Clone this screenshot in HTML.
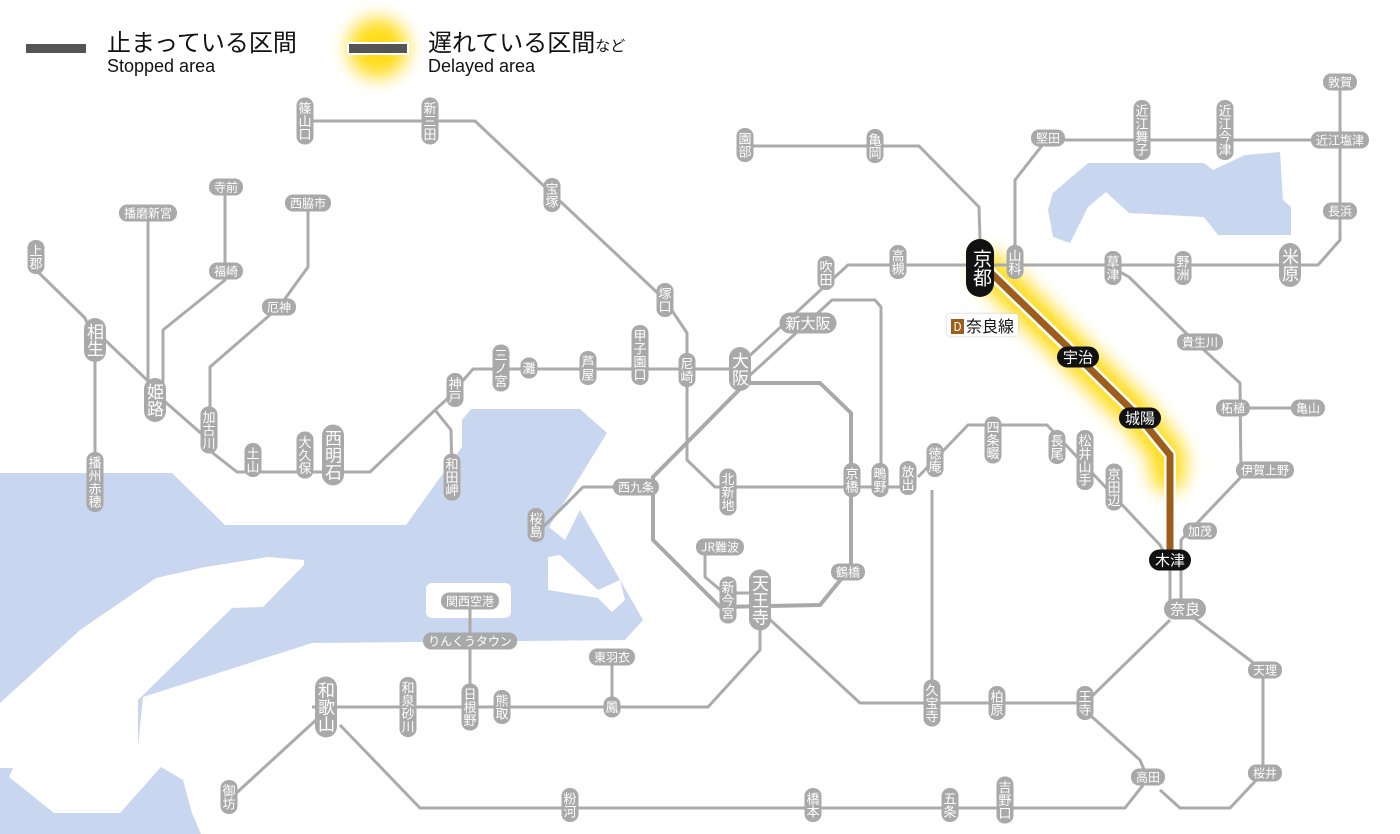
<!DOCTYPE html>
<html><head><meta charset="utf-8">
<style>
html,body{margin:0;padding:0;background:#fff;}
#w{position:relative;width:1400px;height:834px;overflow:hidden;font-family:"Liberation Sans","Noto Sans CJK JP",sans-serif;}
svg{position:absolute;left:0;top:0;}
.l{position:absolute;transform:translate(-50%,-50%);background:#a9a9a9;color:#fff;font-size:12px;white-space:nowrap;border-radius:8px;font-family:"Noto Sans CJK JP",sans-serif;}
.v{writing-mode:vertical-rl;text-orientation:upright;width:17px;line-height:17px;padding:4px 0;font-size:13px;}
.h{height:17px;line-height:17px;padding:0 5px;}
.b{font-size:17px;width:22px;line-height:22px;border-radius:11px;padding:5px 0;}
.hb{font-size:15px;height:21px;line-height:21px;border-radius:11px;padding:0 6px;}
.k{background:#111;}
</style></head><body><div id="w">
<svg width="1400" height="834">
<defs><filter id="g" x="-50%" y="-50%" width="200%" height="200%"><feGaussianBlur stdDeviation="9"/></filter></defs>
<g fill="#c9d6f0">
<polygon points="0,473 172,473 225,525 406,525 462,447 462,420 471,409 580,409 607,433 549,527 565,540 580,510 643,620 625,640 312,643 143,697 138,747 161,767 183,780 192,813 201,834 0,834"/>
<polygon points="1048,210 1053,193 1088,163 1204,163 1213,170 1245,155 1280,152 1283,200 1291,207 1291,235 1218,235 1204,217 1129,213 1106,192 1088,207 1070,243 1053,237"/>
</g>
<g fill="#fff">
<polygon points="304,560 268,557 205,567 156,578 80,630 0,703 0,768 13,768 9,777 54,813 120,813 161,767 138,747 138,700 232,608 263,607 304,565"/>
<rect x="426" y="583" width="85" height="35" rx="6"/>
<polygon points="548,557 560,555 598,590 620,580 625,600 612,612 598,598 548,590"/>
</g>
<polyline points="990,270 1078,357 1140,418 1168,455 1168,475" fill="none" stroke="#ffd800" stroke-width="34" stroke-linecap="round" filter="url(#g)" opacity="0.9"/>
<circle cx="378" cy="48" r="30" fill="#ffd800" filter="url(#g)" opacity="0.9"/>
<g fill="none" stroke="#ababab" stroke-width="3" stroke-linejoin="round">
<polyline points="305,121 475,121 665,300 687,333 687,460 715,487 908,487"/>
<polyline points="36,270 85,318 95,343 105,340 147,380 163,400 203,435 209,450 237,472 370,472 435,410 446,400 473,369 745,369"/>
<polyline points="435,410 451,430 452,477"/>
<polyline points="95,343 95,495"/>
<polyline points="148,213 148,395"/>
<polyline points="225,187 225,280 163,330 163,395"/>
<polyline points="308,203 308,267 279,307 210,367 210,430"/>
<polyline points="745,360 826,285 848,265 1318,265 1340,240 1340,82"/>
<polyline points="748,377 832,300 875,300 881,307 881,490"/>
<polyline points="1015,265 1015,180 1044,143 1048,140 1340,140"/>
<polyline points="745,146 919,146 979,207 980,240"/>
<polyline points="1113,268 1129,277 1193,340 1240,383 1241,477 1181,540 1181,610"/>
<polyline points="1233,408 1308,408"/>
<polyline points="918,477 968,425 1047,425 1160,545 1168,560"/>
<polyline points="932,490 932,703"/>
<polyline points="620,487 583,487 542,528"/>
<polyline points="705,547 705,577 724,593 760,593"/>
<polyline points="760,620 760,650 708,707 312,707"/>
<polyline points="612,657 612,707"/>
<polyline points="470,601 470,707"/>
<polyline points="316,720 232,797"/>
<polyline points="340,725 420,808 1125,808 1147,780"/>
<polyline points="765,615 860,703 1085,703 1170,620"/>
<polyline points="1090,715 1140,760 1147,777"/>
<polyline points="1190,615 1263,670 1263,773 1230,808 1180,808 1160,790"/>
<polyline points="1170,560 1170,615"/>
</g>
<g fill="none" stroke="#a9a9a9" stroke-width="4" stroke-linejoin="round">
<polyline points="739,390 653,477 653,540 720,607 820,605 851,567 851,413 820,383 745,383"/>
</g>
<polyline points="990,272 1078,357 1140,418 1170,455 1170,560" fill="none" stroke="#fff" stroke-width="12" stroke-linejoin="round"/>
<polyline points="990,272 1078,357 1140,418 1170,455 1170,560" fill="none" stroke="#9c5e1a" stroke-width="7" stroke-linejoin="round"/>
<rect x="26" y="44" width="60" height="9" fill="#555"/>
<rect x="347" y="42" width="62" height="13" fill="#fff"/>
<rect x="349" y="44" width="58" height="9" fill="#555"/>
</svg>
<div style="position:absolute;left:107px;top:26px;font-size:24px;color:#111;font-family:'Noto Sans CJK JP',sans-serif;line-height:30px;">止まっている区間</div>
<div style="position:absolute;left:107px;top:56px;font-size:18px;color:#111;line-height:20px;">Stopped area</div>
<div style="position:absolute;left:428px;top:26px;font-size:24px;color:#111;font-family:'Noto Sans CJK JP',sans-serif;line-height:30px;">遅れている区間<span style="font-size:15px">など</span></div>
<div style="position:absolute;left:428px;top:56px;font-size:18px;color:#111;line-height:20px;">Delayed area</div>

<div class="l v" style="left:305px;top:121px">篠山口</div>
<div class="l v" style="left:430px;top:121px">新三田</div>
<div class="l v" style="left:552px;top:195px">宝塚</div>
<div class="l v" style="left:665px;top:300px">塚口</div>
<div class="l v" style="left:640px;top:355px">甲子園口</div>
<div class="l v" style="left:588px;top:368px">芦屋</div>
<div class="l v" style="left:529px;top:368px">灘</div>
<div class="l v" style="left:501px;top:368px">三ノ宮</div>
<div class="l v" style="left:687px;top:370px">尼崎</div>
<div class="l v" style="left:455px;top:390px">神戸</div>
<div class="l v" style="left:36px;top:257px">上郡</div>
<div class="l v b" style="left:95px;top:340px">相生</div>
<div class="l v b" style="left:155px;top:400px">姫路</div>
<div class="l v" style="left:209px;top:430px">加古川</div>
<div class="l v" style="left:253px;top:460px">土山</div>
<div class="l v" style="left:305px;top:455px">大久保</div>
<div class="l v b" style="left:333px;top:455px">西明石</div>
<div class="l v" style="left:452px;top:477px">和田岬</div>
<div class="l v" style="left:95px;top:482px">播州赤穂</div>
<div class="l v b" style="left:740px;top:369px">大阪</div>
<div class="l v" style="left:728px;top:492px">北新地</div>
<div class="l v" style="left:852px;top:480px">京橋</div>
<div class="l v" style="left:880px;top:480px">鴫野</div>
<div class="l v" style="left:908px;top:478px">放出</div>
<div class="l v" style="left:935px;top:460px">徳庵</div>
<div class="l v" style="left:993px;top:440px">四条畷</div>
<div class="l v" style="left:1057px;top:447px">長尾</div>
<div class="l v" style="left:1085px;top:460px">松井山手</div>
<div class="l v" style="left:1114px;top:487px">京田辺</div>
<div class="l v" style="left:826px;top:273px">吹田</div>
<div class="l v" style="left:898px;top:262px">高槻</div>
<div class="l v" style="left:1015px;top:262px">山科</div>
<div class="l v" style="left:1113px;top:268px">草津</div>
<div class="l v" style="left:1183px;top:268px">野洲</div>
<div class="l v b" style="left:1290px;top:265px">米原</div>
<div class="l v" style="left:745px;top:145px">園部</div>
<div class="l v" style="left:875px;top:146px">亀岡</div>
<div class="l v" style="left:1142px;top:130px">近江舞子</div>
<div class="l v" style="left:1225px;top:130px">近江今津</div>
<div class="l v" style="left:728px;top:600px">新今宮</div>
<div class="l v b" style="left:760px;top:600px">天王寺</div>
<div class="l v" style="left:932px;top:703px">久宝寺</div>
<div class="l v" style="left:997px;top:703px">柏原</div>
<div class="l v" style="left:1085px;top:703px">王寺</div>
<div class="l v b" style="left:326px;top:707px">和歌山</div>
<div class="l v" style="left:408px;top:707px">和泉砂川</div>
<div class="l v" style="left:470px;top:707px">日根野</div>
<div class="l v" style="left:502px;top:707px">熊取</div>
<div class="l v" style="left:612px;top:707px">鳳</div>
<div class="l v" style="left:229px;top:797px">御坊</div>
<div class="l v" style="left:570px;top:805px">粉河</div>
<div class="l v" style="left:813px;top:805px">橋本</div>
<div class="l v" style="left:950px;top:805px">五条</div>
<div class="l v" style="left:1005px;top:800px">吉野口</div>
<div class="l v" style="left:536px;top:525px">桜島</div>

<div class="l h" style="left:226px;top:187px">寺前</div>
<div class="l h" style="left:148px;top:213px">播磨新宮</div>
<div class="l h" style="left:308px;top:203px">西脇市</div>
<div class="l h" style="left:226px;top:271px">福崎</div>
<div class="l h" style="left:279px;top:307px">厄神</div>
<div class="l h hb" style="left:808px;top:323px">新大阪</div>
<div class="l h" style="left:636px;top:487px">西九条</div>
<div class="l h" style="left:720px;top:547px">JR難波</div>
<div class="l h" style="left:848px;top:572px">鶴橋</div>
<div class="l h" style="left:470px;top:601px">関西空港</div>
<div class="l h" style="left:470px;top:641px">りんくうタウン</div>
<div class="l h" style="left:612px;top:657px">東羽衣</div>
<div class="l h" style="left:1048px;top:138px">堅田</div>
<div class="l h" style="left:1340px;top:140px">近江塩津</div>
<div class="l h" style="left:1340px;top:82px">敦賀</div>
<div class="l h" style="left:1340px;top:211px">長浜</div>
<div class="l h" style="left:1200px;top:342px">貴生川</div>
<div class="l h" style="left:1233px;top:408px">柘植</div>
<div class="l h" style="left:1308px;top:408px">亀山</div>
<div class="l h" style="left:1265px;top:470px">伊賀上野</div>
<div class="l h" style="left:1200px;top:531px">加茂</div>
<div class="l h hb" style="left:1185px;top:609px">奈良</div>
<div class="l h" style="left:1265px;top:670px">天理</div>
<div class="l h" style="left:1148px;top:777px">高田</div>
<div class="l h" style="left:1265px;top:773px">桜井</div>

<div class="l v k" style="left:980px;top:268px;font-size:19px;width:28px;line-height:24px;border-radius:14px;padding:10px 0;">京都</div>
<div class="l h k hb" style="left:1078px;top:357px">宇治</div>
<div class="l h k hb" style="left:1140px;top:418px">城陽</div>
<div class="l h k hb" style="left:1170px;top:560px">木津</div>
<div style="position:absolute;left:947px;top:314px;height:22px;background:#fff;border-radius:3px;box-shadow:0 0 3px #ccc;padding:0 4px;font-size:16px;line-height:22px;color:#111;font-family:'Noto Sans CJK JP',sans-serif;white-space:nowrap;"><span style="display:inline-block;background:#9c5e1a;color:#fff;width:13px;height:15px;line-height:15px;font-size:12px;text-align:center;vertical-align:1px;margin-right:2px;">D</span>奈良線</div>
</div></body></html>
